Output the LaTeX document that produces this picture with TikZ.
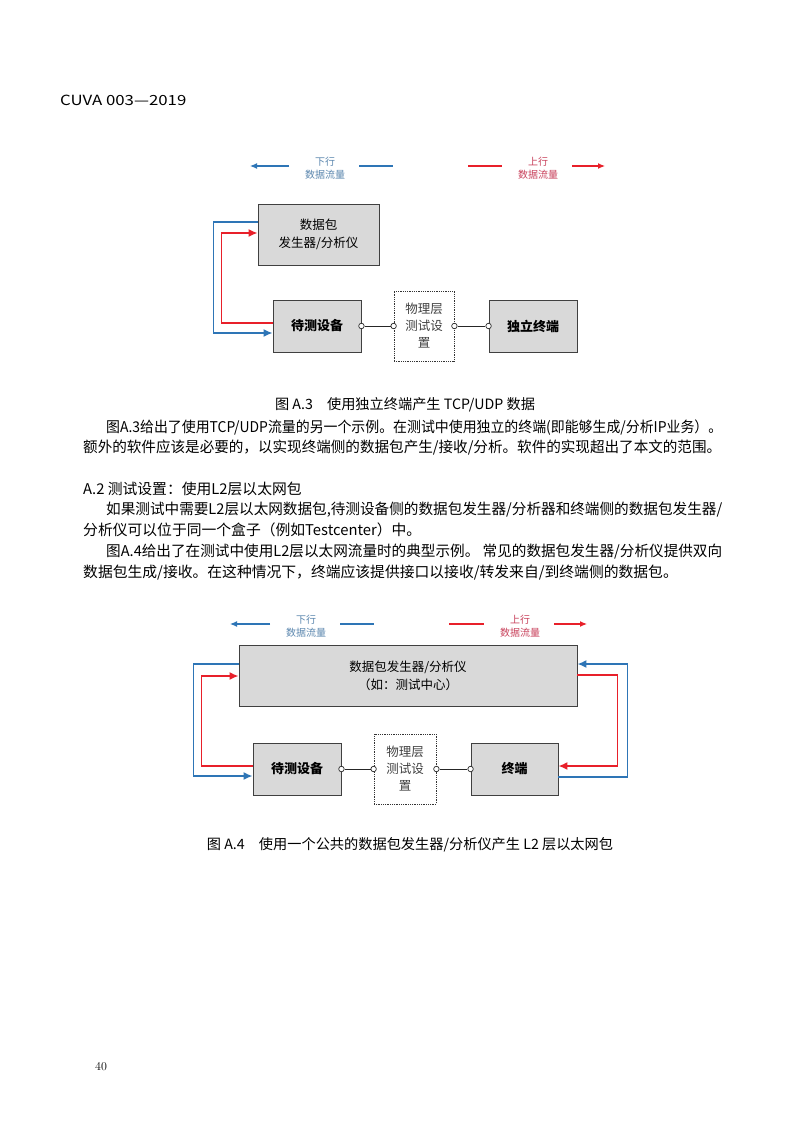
\documentclass[tikz,border=0pt]{standalone}
\usepackage{fontspec}
\usepackage{graphicx}
\newfontfamily\cjk{Noto Sans CJK SC}
\usepackage{xcolor}
\usetikzlibrary{arrows.meta,positioning,calc}
\definecolor{flowblue}{HTML}{2E75B6}
\definecolor{flowred}{HTML}{E8202A}
\definecolor{lblblue}{HTML}{5A86AE}
\definecolor{lblred}{HTML}{C8405A}
\definecolor{boxgray}{HTML}{D9D9D9}
\tikzstyle{device} = [rectangle, draw=black!75, fill=boxgray, line width=0.9pt, align=center, font=\cjk\fontsize{12.5}{18}\selectfont]
\tikzstyle{devbold} = [device, font=\cjk\bfseries\fontsize{13}{17}\selectfont]
\tikzstyle{physet} = [rectangle, draw=black!80, densely dotted, line width=0.8pt, fill=white, align=center, text=black!75, font=\cjk\fontsize{12.5}{17}\selectfont]
\tikzstyle{portdot} = [circle, draw=black!85, fill=white, line width=0.7pt, inner sep=0pt, minimum size=5.5pt]
\tikzstyle{wire} = [line width=0.8pt, black!85]
\tikzstyle{dnflow} = [line width=1.6pt, flowblue, -{Latex[length=9pt,width=8pt]}]
\tikzstyle{upflow} = [line width=1.6pt, flowred, -{Latex[length=9pt,width=8pt]}]
\tikzstyle{dnleg} = [line width=1.2pt, flowblue]
\tikzstyle{upleg} = [line width=1.2pt, flowred]
\tikzstyle{flowlbl} = [align=center, inner sep=0pt, font=\cjk\fontsize{10}{13}\selectfont]
\tikzstyle{bodyline} = [anchor=base west, inner sep=0pt, font=\cjk\fontsize{14.8}{20}\selectfont]
\tikzstyle{figcap} = [inner sep=0pt, font=\cjk\fontsize{14.2}{18}\selectfont]
% full text line, fitted to its width
\newcommand{\fullline}[2]{\resizebox{#1}{\height}{#2}}

\begin{document}
\begin{tikzpicture}[x=1pt,y=-1pt]
\useasboundingbox[fill=white] (0,0) rectangle (800,1131);

% page head and foot
\node (head) [anchor=west, inner sep=0pt, font=\cjk\fontsize{14}{16}\selectfont] at (60,100) {\scalebox{1.2}[1]{CUVA 003—2019}};
\node (pageno) [inner sep=0pt, font=\fontsize{12}{14}\selectfont] at (101,1067) {40};

% ---- figure A.3 ----
\coordinate (dn3a) at (289,166);
\coordinate (dn3b) at (250,166);
\coordinate (dn3c) at (359,166);
\coordinate (dn3d) at (393,166);
\coordinate (up3a) at (468,166);
\coordinate (up3b) at (502,166);
\coordinate (up3c) at (572,166);
\coordinate (up3d) at (605,166);
\node (dn3) [flowlbl, text=lblblue] at (325,168) {下行\\数据流量};
\node (up3) [flowlbl, text=lblred] at (538,168) {上行\\数据流量};
\draw [dnleg, -{Latex[length=7pt,width=6pt]}] (dn3a) -- (dn3b);
\draw [dnleg] (dn3c) -- (dn3d);
\draw [upleg] (up3a) -- (up3b);
\draw [upleg, -{Latex[length=7pt,width=6pt]}] (up3c) -- (up3d);

\node (gen3) [device, minimum width=121pt, minimum height=61pt] at (318.5,234.5) {数据包\\发生器/分析仪};
\node (dut3) [devbold, minimum width=88pt, minimum height=52pt] at (317,326) {待测设备};
\node (phy3) [physet, minimum width=60pt, minimum height=70pt] at (424,326) {物理层\\测试设\\置};
\node (term3) [devbold, minimum width=88pt, minimum height=52pt] at (533,326) {独立终端};

\node (p31) [portdot] at (dut3.east) {};
\node (p32) [portdot] at (phy3.west) {};
\node (p33) [portdot] at (phy3.east) {};
\node (p34) [portdot] at (term3.west) {};
\draw [wire] (p31) -- (p32);
\draw [wire] (p33) -- (p34);

\draw [dnflow] ([yshift=12.5pt]gen3.west) -- ++(-44,0) |- ([yshift=-7pt]dut3.west);
\draw [upflow] ([yshift=3pt]dut3.west) -- ++(-51,0) |- ([yshift=1.5pt]gen3.west);

\node (cap3) [figcap] at (405,405) {图 A.3\quad 使用独立终端产生 TCP/UDP 数据};

% ---- text ----
\node (t1) [bodyline] at (106,432.6) {\fullline{616pt}{图A.3给出了使用TCP/UDP流量的另一个示例。在测试中使用独立的终端(即能够生成/分析IP业务）。}};
\node (t2) [bodyline] at (83,452.6) {\fullline{638pt}{额外的软件应该是必要的，以实现终端侧的数据包产生/接收/分析。软件的实现超出了本文的范围。}};
\node (sec) [bodyline] at (83,494.6) {A.2 测试设置：使用L2层以太网包};
\node (t3) [bodyline] at (106,514.6) {\fullline{616pt}{如果测试中需要L2层以太网数据包,待测设备侧的数据包发生器/分析器和终端侧的数据包发生器/}};
\node (t4) [bodyline] at (83,535.6) {分析仪可以位于同一个盒子（例如Testcenter）中。};
\node (t5) [bodyline] at (106,556.6) {\fullline{616pt}{图A.4给出了在测试中使用L2层以太网流量时的典型示例。 常见的数据包发生器/分析仪提供双向}};
\node (t6) [bodyline] at (83,577.6) {数据包生成/接收。在这种情况下，终端应该提供接口以接收/转发来自/到终端侧的数据包。};

% ---- figure A.4 ----
\coordinate (dn4a) at (270,624);
\coordinate (dn4b) at (230,624);
\coordinate (dn4c) at (340,624);
\coordinate (dn4d) at (374,624);
\coordinate (up4a) at (449,624);
\coordinate (up4b) at (484,624);
\coordinate (up4c) at (554,624);
\coordinate (up4d) at (587,624);
\node (dn4) [flowlbl, text=lblblue] at (306,626) {下行\\数据流量};
\node (up4) [flowlbl, text=lblred] at (520,626) {上行\\数据流量};
\draw [dnleg, -{Latex[length=7pt,width=6pt]}] (dn4a) -- (dn4b);
\draw [dnleg] (dn4c) -- (dn4d);
\draw [upleg] (up4a) -- (up4b);
\draw [upleg, -{Latex[length=7pt,width=6pt]}] (up4c) -- (up4d);

\node (gen4) [device, minimum width=338pt, minimum height=61pt] at (408,675.5) {数据包发生器/分析仪\\（如：测试中心）};
\node (dut4) [devbold, minimum width=88pt, minimum height=52pt] at (297,769) {待测设备};
\node (phy4) [physet, minimum width=62pt, minimum height=70pt] at (405,769) {物理层\\测试设\\置};
\node (term4) [devbold, minimum width=87pt, minimum height=52pt] at (514.5,769) {终端};

\node (p41) [portdot] at (dut4.east) {};
\node (p42) [portdot] at (phy4.west) {};
\node (p43) [portdot] at (phy4.east) {};
\node (p44) [portdot] at (term4.west) {};
\draw [wire] (p41) -- (p42);
\draw [wire] (p43) -- (p44);

\draw [dnflow] ([yshift=11.5pt]gen4.west) -- ++(-45,0) |- ([yshift=-7pt]dut4.west);
\draw [upflow] ([yshift=3pt]dut4.west) -- ++(-51,0) |- ([yshift=-0.5pt]gen4.west);
\draw [dnflow] ([yshift=-8pt]term4.east) -- ++(69,0) |- ([yshift=11.5pt]gen4.east);
\draw [upflow] ([yshift=0.5pt]gen4.east) -- ++(40,0) |- ([yshift=3pt]term4.east);

\node (cap4) [figcap] at (410,845) {图 A.4\quad 使用一个公共的数据包发生器/分析仪产生 L2 层以太网包};
\end{tikzpicture}
\end{document}
